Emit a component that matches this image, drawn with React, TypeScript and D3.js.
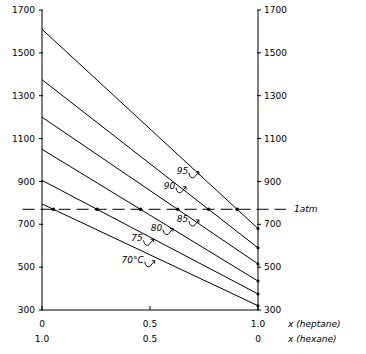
import * as d3 from 'd3';

// vapour pressure (mmHg) of the two ends of each isotherm
const temps = ['70°C', '75', '80', '85', '90', '95'];
const pHexaneEnd = [795, 905, 1050, 1200, 1375, 1610]; // x(heptane) = 0
const pHeptaneEnd = [320, 375, 435, 515, 590, 680]; // x(heptane) = 1
// where each temperature label sits (x heptane, pressure)
const labelX = [0.42, 0.44, 0.53, 0.65, 0.59, 0.65];
const labelP = [535, 635, 685, 725, 880, 950];

const yTicks = [300, 500, 700, 900, 1100, 1300, 1500, 1700];
const xTicks = [0, 0.5, 1];
const xTopLabels = ['0', '0.5', '1.0'];
const xBottomLabels = ['1.0', '0.5', '0'];
const atm = 770; // dashed line as drawn (1 atm)

const W = 366;
const H = 354;
const margin = { top: 10, right: 108, bottom: 44, left: 42 };

export default function App() {
  const x = d3.scaleLinear().domain([0, 1]).range([margin.left, W - margin.right]);
  const y = d3.scaleLinear().domain([300, 1700]).range([H - margin.bottom, margin.top]);

  const line = d3.line<[number, number]>()
    .x(d => x(d[0]))
    .y(d => y(d[1]));

  const font = "'DejaVu Sans', sans-serif";

  // hooked arrow next to a label
  const hook = (px: number, py: number) => {
    const p = d3.path();
    p.moveTo(px, py - 2);
    p.quadraticCurveTo(px + 1, py + 4, px + 5, py + 3);
    p.lineTo(px + 10, py - 3);
    p.moveTo(px + 10, py - 3);
    p.lineTo(px + 7, py - 3);
    p.moveTo(px + 10, py - 3);
    p.lineTo(px + 10, py);
    return p.toString();
  };

  return (
    <svg width={W} height={H} style={{ position: 'absolute', left: 0, top: 0, background: '#fff' }}>
      {/* axes */}
      <g stroke="#000" strokeWidth={1} fill="none">
        <line x1={x(0)} x2={x(0)} y1={y(300)} y2={y(1700)} />
        <line x1={x(1)} x2={x(1)} y1={y(300)} y2={y(1700)} />
        <line x1={x(0)} x2={x(1)} y1={y(300)} y2={y(300)} />
        {yTicks.map(t => (
          <g key={t}>
            <line x1={x(0) - 3} x2={x(0) + 1} y1={y(t)} y2={y(t)} />
            <line x1={x(1) - 1} x2={x(1) + 3} y1={y(t)} y2={y(t)} />
          </g>
        ))}
        {xTicks.map(t => (
          <line key={t} x1={x(t)} x2={x(t)} y1={y(300)} y2={y(300) - 4} />
        ))}
      </g>

      {/* tick labels */}
      <g fontFamily={font} fontSize={9} fill="#000">
        {yTicks.map(t => (
          <g key={t}>
            <text x={x(0) - 7} y={y(t)} dy="0.35em" textAnchor="end">{t}</text>
            <text x={x(1) + 6} y={y(t)} dy="0.35em">{t}</text>
          </g>
        ))}
        {xTicks.map((t, i) => (
          <g key={t}>
            <text x={x(t)} y={y(300) + 17} textAnchor="middle">{xTopLabels[i]}</text>
            <text x={x(t)} y={y(300) + 32} textAnchor="middle">{xBottomLabels[i]}</text>
          </g>
        ))}
        <text x={x(1) + 30} y={y(300) + 17} fontStyle="italic">x (heptane)</text>
        <text x={x(1) + 30} y={y(300) + 32} fontStyle="italic">x (hexane)</text>
        <text x={x(1) + 36} y={y(atm)} dy="0.35em" fontStyle="italic">1atm</text>
      </g>

      {/* 1 atm */}
      <line x1={x(-0.09)} x2={x(1.13)} y1={y(atm)} y2={y(atm)}
        stroke="#000" strokeWidth={1} strokeDasharray="12,6" />

      {/* isotherms */}
      {temps.map((t, i) => {
        const a = pHexaneEnd[i];
        const b = pHeptaneEnd[i];
        const xi = (a - atm) / (a - b);
        return (
          <g key={t}>
            <path d={line([[0, a], [1, b]]) ?? ''} stroke="#000" strokeWidth={1} fill="none" />
            <circle cx={x(xi)} cy={y(atm)} r={1.8} fill="#000" />
            <circle cx={x(1)} cy={y(b)} r={1.5} fill="#000" />
          </g>
        );
      })}

      {/* temperature labels */}
      <g fontFamily={font} fontSize={9} fontStyle="italic" fill="#000">
        {temps.map((t, i) => {
          const lx = x(labelX[i]);
          const ly = y(labelP[i]);
          const wdt = t.length * 5.5;
          return (
            <g key={t}>
              <text x={lx} y={ly} dy="0.35em" textAnchor="middle">{t}</text>
              <path d={hook(lx + wdt / 2 + 1, ly + 4)} stroke="#000" strokeWidth={0.9} fill="none" />
            </g>
          );
        })}
      </g>
    </svg>
  );
}
